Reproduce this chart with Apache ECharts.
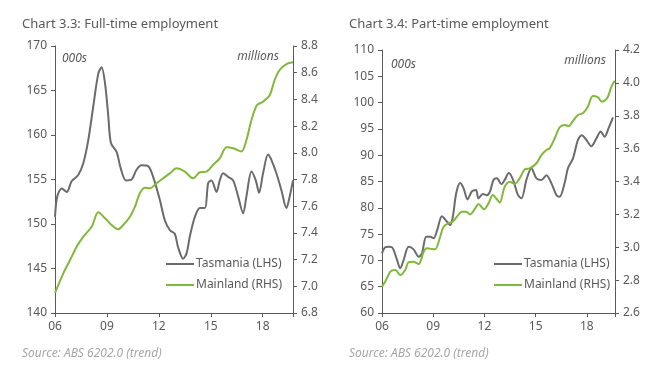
<!DOCTYPE html>
<html>
<head>
<meta charset="utf-8">
<script src="https://cdn.jsdelivr.net/npm/echarts@6/dist/echarts.min.js"></script>
<style>
  html, body { margin: 0; padding: 0; background: #fff; }
  #chart { width: 671px; height: 377px; }
</style>
</head>
<body>
<div id="chart"></div>
<script>
// x values are decimal years; ticks every 3 years from 2006
const xTickLabels = ['06', '09', '12', '15', '18'];

// Chart 3.3: Full-time employment
const ftTasYears = [2006.00, 2006.13, 2006.39, 2006.68, 2006.96, 2007.34, 2007.63, 2007.92, 2008.21, 2008.50,
  2008.69, 2008.89, 2009.08, 2009.23, 2009.56, 2009.79, 2010.10, 2010.43, 2010.71, 2011.00,
  2011.38, 2011.67, 2012.06, 2012.35, 2012.64, 2012.92, 2013.11, 2013.40, 2013.60, 2013.79,
  2014.08, 2014.37, 2014.66, 2014.85, 2015.04, 2015.33, 2015.52, 2015.71, 2016.00, 2016.29,
  2016.58, 2016.87, 2017.06, 2017.35, 2017.60, 2017.79, 2018.02, 2018.31, 2018.50, 2018.79,
  2019.08, 2019.37, 2019.56, 2019.75];
const ftTasValues = [150.8, 153.1, 154.0, 153.6, 154.8, 155.5, 156.8, 159.4, 163.2, 166.9,
  167.6, 165.8, 162.1, 159.1, 158.1, 156.3, 154.9, 155.0, 156.1, 156.6,
  156.5, 155.3, 152.7, 150.4, 149.3, 148.9, 147.4, 146.1, 146.7, 148.6,
  150.8, 151.8, 151.8, 154.6, 154.9, 153.6, 154.9, 155.7, 155.3, 154.9,
  153.1, 151.2, 153.1, 155.9, 154.9, 153.5, 155.7, 157.8, 157.2, 155.7,
  153.8, 151.8, 153.1, 154.9];

const ftMainYears = [2006.00, 2006.48, 2006.87, 2007.25, 2007.63, 2008.12, 2008.50, 2008.89, 2009.27, 2009.65,
  2009.94, 2010.33, 2010.62, 2010.90, 2011.19, 2011.48, 2011.87, 2012.25, 2012.64, 2013.02,
  2013.50, 2013.98, 2014.37, 2014.75, 2015.13, 2015.52, 2015.91, 2016.29, 2016.77, 2017.06,
  2017.35, 2017.67, 2018.02, 2018.41, 2018.69, 2018.98, 2019.37, 2019.75];
const ftMainValues = [6.95, 7.097, 7.197, 7.297, 7.371, 7.446, 7.554, 7.509, 7.459, 7.427,
  7.459, 7.521, 7.596, 7.697, 7.739, 7.734, 7.772, 7.809, 7.846, 7.884,
  7.859, 7.809, 7.854, 7.859, 7.909, 7.959, 8.041, 8.034, 8.009, 8.096,
  8.246, 8.358, 8.383, 8.433, 8.545, 8.620, 8.665, 8.678];

// Chart 3.4: Part-time employment
const ptTasYears = [2006.00, 2006.19, 2006.39, 2006.58, 2006.68, 2006.88, 2007.07, 2007.27, 2007.56, 2007.85,
  2008.15, 2008.34, 2008.59, 2008.82, 2009.02, 2009.22, 2009.51, 2009.80, 2009.99, 2010.15,
  2010.35, 2010.58, 2010.78, 2011.01, 2011.26, 2011.51, 2011.65, 2011.91, 2012.14, 2012.33,
  2012.53, 2012.73, 2013.00, 2013.19, 2013.43, 2013.68, 2013.97, 2014.17, 2014.46, 2014.75,
  2015.05, 2015.34, 2015.63, 2015.92, 2016.22, 2016.41, 2016.70, 2016.89, 2017.19, 2017.48,
  2017.71, 2017.97, 2018.26, 2018.56, 2018.81, 2019.04, 2019.27, 2019.53];
const ptTasValues = [71.35, 72.5, 72.6, 72.5, 72.0, 70.1, 68.5, 70.1, 72.6, 72.1,
  70.7, 71.35, 74.5, 74.5, 74.2, 75.6, 78.4, 77.4, 76.7, 78.3,
  82.8, 84.7, 83.7, 81.6, 83.1, 83.4, 81.8, 82.6, 82.4, 83.1,
  85.3, 85.6, 84.5, 85.3, 86.6, 85.3, 82.4, 81.8, 85.3, 87.5,
  85.6, 85.3, 86.2, 84.7, 82.4, 82.1, 84.7, 87.5, 89.4, 92.9,
  93.8, 92.9, 91.7, 93.2, 94.5, 93.5, 95.1, 97.2];

const ptMainYears = [2006.00, 2006.19, 2006.49, 2006.78, 2007.07, 2007.36, 2007.56, 2007.85, 2008.15, 2008.44,
  2008.63, 2008.92, 2009.12, 2009.41, 2009.61, 2009.90, 2010.15, 2010.39, 2010.68, 2010.93,
  2011.16, 2011.46, 2011.65, 2011.98, 2012.24, 2012.49, 2012.73, 2012.90, 2013.19, 2013.49,
  2013.78, 2014.07, 2014.36, 2014.65, 2015.05, 2015.34, 2015.63, 2015.82, 2016.12, 2016.41,
  2016.70, 2016.94, 2017.19, 2017.48, 2017.77, 2018.06, 2018.35, 2018.65, 2018.88, 2019.19,
  2019.44, 2019.63];
const ptMainValues = [2.760, 2.791, 2.852, 2.862, 2.831, 2.862, 2.909, 2.912, 2.898, 2.973,
  2.994, 2.990, 2.988, 3.064, 3.125, 3.146, 3.156, 3.186, 3.216, 3.216,
  3.200, 3.237, 3.263, 3.231, 3.267, 3.318, 3.292, 3.271, 3.369, 3.399,
  3.385, 3.420, 3.474, 3.480, 3.511, 3.561, 3.592, 3.602, 3.663, 3.730,
  3.744, 3.738, 3.768, 3.805, 3.815, 3.855, 3.920, 3.912, 3.886, 3.906,
  3.977, 4.013];

const textColor = '#595959';
const axisColor = '#595959';
const grayLine = '#6b6b6b';
const greenLine = '#80b83a';
const font = 'Noto Sans';

const toPairs = (years, values) => years.map((y, i) => [y - 2006, values[i]]);

function xAxisFor(gridIndex, max) {
  return {
    type: 'value', gridIndex, min: 0, max, interval: 3,
    axisLine: { show: true, lineStyle: { color: axisColor, width: 1 } },
    axisTick: { show: true, length: 4, lineStyle: { color: axisColor } },
    splitLine: { show: false },
    axisLabel: {
      color: textColor, fontFamily: font, fontSize: 12, margin: 8,
      formatter: v => (Math.abs(v % 3) < 1e-6 ? xTickLabels[Math.round(v / 3)] : '')
    }
  };
}

function yAxisFor(gridIndex, position, min, max, interval, decimals) {
  return {
    type: 'value', gridIndex, position, min, max, interval,
    axisLine: { show: true, lineStyle: { color: axisColor, width: 1 } },
    axisTick: { show: true, length: 4, lineStyle: { color: axisColor } },
    splitLine: { show: false },
    axisLabel: {
      color: textColor, fontFamily: font, fontSize: 12, margin: 8,
      formatter: v => v.toFixed(decimals)
    }
  };
}

function lineSeries(name, color, xi, yi, data) {
  return {
    name, type: 'line', xAxisIndex: xi, yAxisIndex: yi, data,
    symbol: 'none', smooth: 0.3,
    lineStyle: { color, width: 2 }, itemStyle: { color }
  };
}

function legendAt(left) {
  return {
    data: ['Tasmania (LHS)', 'Mainland (RHS)'], left, top: 253, orient: 'vertical',
    icon: 'rect', itemWidth: 28, itemHeight: 2, itemGap: 9,
    textStyle: { color: textColor, fontFamily: font, fontSize: 12, padding: [0, 0, 0, -3] }
  };
}

const chart = echarts.init(document.getElementById('chart'));

const labelText = (x, y, text, align) => ({
  type: 'text', left: align === 'right' ? null : x, right: align === 'right' ? x : null, top: y,
  style: { text, fill: textColor, font: 'italic 12px "Noto Sans"' }
});

chart.setOption({
  animation: false,
  title: [
    { text: 'Chart 3.3: Full-time employment', left: 17, top: 13,
      textStyle: { color: textColor, fontFamily: font, fontSize: 13, fontWeight: 'normal' } },
    { text: 'Chart 3.4: Part-time employment', left: 344, top: 13,
      textStyle: { color: textColor, fontFamily: font, fontSize: 13, fontWeight: 'normal' } },
    { text: 'Source: ABS 6202.0 (trend)', left: 17, top: 343,
      textStyle: { color: '#a6a6a6', fontFamily: font, fontSize: 12, fontStyle: 'italic', fontWeight: 'normal' } },
    { text: 'Source: ABS 6202.0 (trend)', left: 344, top: 343,
      textStyle: { color: '#a6a6a6', fontFamily: font, fontSize: 12, fontStyle: 'italic', fontWeight: 'normal' } }
  ],
  graphic: [
    labelText(62, 53, '000s'),
    labelText(391, 59, '000s'),
    labelText(392, 51, 'millions', 'right'),
    labelText(65, 55, 'millions', 'right')
  ],
  legend: [legendAt(161), legendAt(489)],
  grid: [
    { left: 55, right: 378, top: 46, bottom: 64 },
    { left: 382, right: 56, top: 50, bottom: 64 }
  ],
  xAxis: [xAxisFor(0, 13.75), xAxisFor(1, 13.65)],
  yAxis: [
    yAxisFor(0, 'left', 140, 170, 5, 0),
    yAxisFor(0, 'right', 6.8, 8.8, 0.2, 1),
    yAxisFor(1, 'left', 60, 110, 5, 0),
    yAxisFor(1, 'right', 2.6, 4.2, 0.2, 1)
  ],
  series: [
    lineSeries('Tasmania (LHS)', grayLine, 0, 0, toPairs(ftTasYears, ftTasValues)),
    lineSeries('Mainland (RHS)', greenLine, 0, 1, toPairs(ftMainYears, ftMainValues)),
    lineSeries('Tasmania (LHS)', grayLine, 1, 2, toPairs(ptTasYears, ptTasValues)),
    lineSeries('Mainland (RHS)', greenLine, 1, 3, toPairs(ptMainYears, ptMainValues))
  ]
});
</script>
</body>
</html>
